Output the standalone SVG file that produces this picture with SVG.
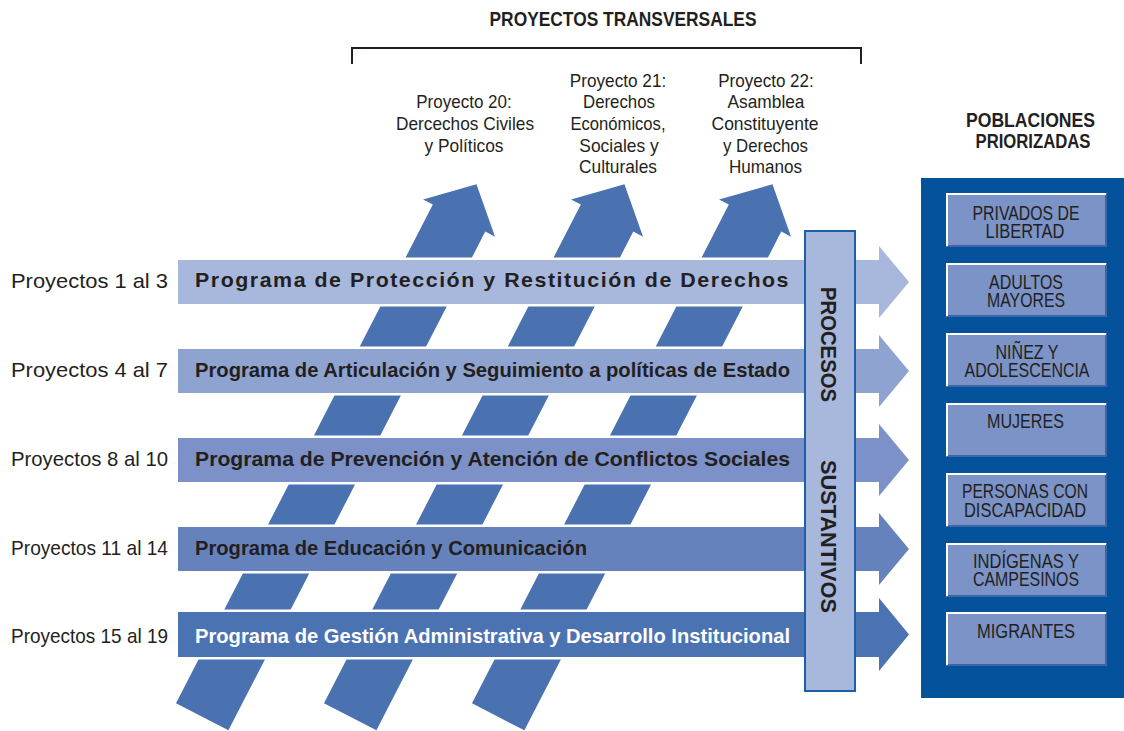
<svg xmlns="http://www.w3.org/2000/svg" width="1124" height="731" viewBox="0 0 1124 731">
  <style>
    text { font-family: "Liberation Sans", Arial, sans-serif; fill: #231f20; }
    .b { font-weight: bold; }
    .lbl { font-size: 21px; }
    .prj { font-size: 18.5px; text-anchor: middle; }
    .prog { font-size: 21px; font-weight: bold; }
    .pop { font-size: 19.5px; text-anchor: middle; }
    .diag { fill: #4a72b1; }
    .bar { stroke: #ffffff; stroke-width: 5; stroke-linejoin: miter; paint-order: stroke; }
    .box { fill: #7b93c6; }
    .hi { fill: none; stroke: #ffffff; stroke-width: 2; }
    .sh { fill: none; stroke: #3c66a8; stroke-width: 2; }
  </style>
  <defs>
    <polygon id="diagArrow" points="-29.5,515 -29.5,-46 -40.5,-46 0,-84 40.5,-46 29.5,-46 29.5,515"/>
  </defs>

  <rect width="1124" height="731" fill="#ffffff"/>

  <!-- header -->
  <g id="transversales">
    <text class="b" x="623" y="26" font-size="20" text-anchor="middle" textLength="267" lengthAdjust="spacingAndGlyphs">PROYECTOS TRANSVERSALES</text>
    <path d="M352,64 V48 H861 V64" fill="none" stroke="#231f20" stroke-width="2"/>
  </g>

  <g id="proyecto20">
    <text class="prj" x="464" y="108" textLength="95.5" lengthAdjust="spacingAndGlyphs">Proyecto 20:</text>
    <text class="prj" x="465" y="130" textLength="138" lengthAdjust="spacingAndGlyphs">Dercechos Civiles</text>
    <text class="prj" x="464" y="152" textLength="79" lengthAdjust="spacingAndGlyphs">y Políticos</text>
  </g>
  <g id="proyecto21">
    <text class="prj" x="618" y="87" textLength="96.5" lengthAdjust="spacingAndGlyphs">Proyecto 21:</text>
    <text class="prj" x="619" y="108" textLength="72" lengthAdjust="spacingAndGlyphs">Derechos</text>
    <text class="prj" x="618" y="130" textLength="95" lengthAdjust="spacingAndGlyphs">Económicos,</text>
    <text class="prj" x="619" y="152" textLength="79.5" lengthAdjust="spacingAndGlyphs">Sociales y</text>
    <text class="prj" x="618" y="173" textLength="78" lengthAdjust="spacingAndGlyphs">Culturales</text>
  </g>
  <g id="proyecto22">
    <text class="prj" x="766" y="87" textLength="95.5" lengthAdjust="spacingAndGlyphs">Proyecto 22:</text>
    <text class="prj" x="766" y="108" textLength="77" lengthAdjust="spacingAndGlyphs">Asamblea</text>
    <text class="prj" x="765" y="130" textLength="107" lengthAdjust="spacingAndGlyphs">Constituyente</text>
    <text class="prj" x="765.5" y="152" textLength="85" lengthAdjust="spacingAndGlyphs">y Derechos</text>
    <text class="prj" x="765.5" y="173" textLength="73" lengthAdjust="spacingAndGlyphs">Humanos</text>
  </g>

  <!-- diagonal transversal arrows, drawn behind the programme bars -->
  <g id="connectors">
    <use href="#diagArrow" class="diag" transform="translate(438,259) rotate(27.25)"/>
    <use href="#diagArrow" class="diag" transform="translate(586,259) rotate(27.25)"/>
    <use href="#diagArrow" class="diag" transform="translate(734,259) rotate(27.25)"/>
  </g>

  <!-- programme bars -->
  <g id="programa1">
    <polygon class="bar" fill="#a8b7dc" points="178,260 879,260 879,246 909,282 879,318 879,304 178,304"/>
    <text class="prog" x="195" y="287" textLength="595" lengthAdjust="spacingAndGlyphs" letter-spacing="1.5">Programa de Protección y Restitución de Derechos</text>
    <text class="lbl" x="11" y="288" textLength="157" lengthAdjust="spacingAndGlyphs">Proyectos 1 al 3</text>
  </g>
  <g id="programa2">
    <polygon class="bar" fill="#8fa3d0" points="178,349 879,349 879,335 909,371 879,407 879,393 178,393"/>
    <text class="prog" x="195" y="376.5" textLength="595" lengthAdjust="spacingAndGlyphs">Programa de Articulación y Seguimiento a políticas de Estado</text>
    <text class="lbl" x="11" y="377" textLength="157" lengthAdjust="spacingAndGlyphs">Proyectos 4 al 7</text>
  </g>
  <g id="programa3">
    <polygon class="bar" fill="#7b91c7" points="178,438 879,438 879,424 909,460 879,496 879,482 178,482"/>
    <text class="prog" x="195" y="465.5" textLength="595" lengthAdjust="spacingAndGlyphs">Programa de Prevención y Atención de Conflictos Sociales</text>
    <text class="lbl" x="11" y="465.5" textLength="157" lengthAdjust="spacingAndGlyphs">Proyectos 8 al 10</text>
  </g>
  <g id="programa4">
    <polygon class="bar" fill="#6682bd" points="178,527 879,527 879,513 909,549 879,585 879,571 178,571"/>
    <text class="prog" x="195" y="554.5" textLength="392" lengthAdjust="spacingAndGlyphs">Programa de Educación y Comunicación</text>
    <text class="lbl" x="11" y="554.5" textLength="157" lengthAdjust="spacingAndGlyphs">Proyectos 11 al 14</text>
  </g>
  <g id="programa5">
    <polygon class="bar" fill="#4b73b2" points="178,612 879,612 879,598 909,634.5 879,671 879,657 178,657"/>
    <text class="prog" x="195" y="642.5" textLength="595" lengthAdjust="spacingAndGlyphs" style="fill:#ffffff">Programa de Gestión Administrativa y Desarrollo Institucional</text>
    <text class="lbl" x="11" y="643" textLength="157" lengthAdjust="spacingAndGlyphs">Proyectos 15 al 19</text>
  </g>

  <!-- vertical "procesos sustantivos" band -->
  <g id="procesos">
    <rect x="805" y="231" width="50" height="460" fill="#a8b7dc" stroke="#1b5eab" stroke-width="2"/>
    <text class="b" font-size="22" transform="translate(821,287) rotate(90)" textLength="115" lengthAdjust="spacingAndGlyphs">PROCESOS</text>
    <text class="b" font-size="22" transform="translate(821,460) rotate(90)" textLength="153" lengthAdjust="spacingAndGlyphs">SUSTANTIVOS</text>
  </g>

  <!-- priority populations -->
  <g id="poblaciones">
    <text class="b" x="1030.5" y="127" font-size="19.5" text-anchor="middle" textLength="129" lengthAdjust="spacingAndGlyphs">POBLACIONES</text>
    <text class="b" x="1033" y="148" font-size="19.5" text-anchor="middle" textLength="115" lengthAdjust="spacingAndGlyphs">PRIORIZADAS</text>
    <rect x="921" y="178" width="203" height="520" fill="#04519c"/>
  </g>

  <g id="privados">
    <rect class="box" x="946" y="193" width="161" height="54"/>
    <polyline class="sh" points="947,246 1106,246 1106,194"/>
    <polyline class="hi" points="947,246 947,194 1106,194"/>
    <text class="pop" x="1026" y="220" textLength="107" lengthAdjust="spacingAndGlyphs">PRIVADOS DE</text>
    <text class="pop" x="1025" y="238" textLength="79" lengthAdjust="spacingAndGlyphs">LIBERTAD</text>
  </g>
  <g id="adultos">
    <rect class="box" x="946" y="263" width="161" height="54"/>
    <polyline class="sh" points="947,316 1106,316 1106,264"/>
    <polyline class="hi" points="947,316 947,264 1106,264"/>
    <text class="pop" x="1026" y="289" textLength="74" lengthAdjust="spacingAndGlyphs">ADULTOS</text>
    <text class="pop" x="1026" y="307" textLength="78" lengthAdjust="spacingAndGlyphs">MAYORES</text>
  </g>
  <g id="ninez">
    <rect class="box" x="946" y="333" width="161" height="54"/>
    <polyline class="sh" points="947,386 1106,386 1106,334"/>
    <polyline class="hi" points="947,386 947,334 1106,334"/>
    <text class="pop" x="1027" y="359" textLength="63" lengthAdjust="spacingAndGlyphs">NIÑEZ Y</text>
    <text class="pop" x="1027" y="377" textLength="125" lengthAdjust="spacingAndGlyphs">ADOLESCENCIA</text>
  </g>
  <g id="mujeres">
    <rect class="box" x="946" y="403" width="161" height="54"/>
    <polyline class="sh" points="947,456 1106,456 1106,404"/>
    <polyline class="hi" points="947,456 947,404 1106,404"/>
    <text class="pop" x="1025.5" y="428" textLength="77" lengthAdjust="spacingAndGlyphs">MUJERES</text>
  </g>
  <g id="discapacidad">
    <rect class="box" x="946" y="473" width="161" height="54"/>
    <polyline class="sh" points="947,526 1106,526 1106,474"/>
    <polyline class="hi" points="947,526 947,474 1106,474"/>
    <text class="pop" x="1025" y="498" textLength="126" lengthAdjust="spacingAndGlyphs">PERSONAS CON</text>
    <text class="pop" x="1025" y="517" textLength="122" lengthAdjust="spacingAndGlyphs">DISCAPACIDAD</text>
  </g>
  <g id="indigenas">
    <rect class="box" x="946" y="543" width="161" height="54"/>
    <polyline class="sh" points="947,596 1106,596 1106,544"/>
    <polyline class="hi" points="947,596 947,544 1106,544"/>
    <text class="pop" x="1026" y="568" textLength="106" lengthAdjust="spacingAndGlyphs">INDÍGENAS Y</text>
    <text class="pop" x="1026" y="586" textLength="106" lengthAdjust="spacingAndGlyphs">CAMPESINOS</text>
  </g>
  <g id="migrantes">
    <rect class="box" x="946" y="612" width="161" height="54"/>
    <polyline class="sh" points="947,665 1106,665 1106,613"/>
    <polyline class="hi" points="947,665 947,613 1106,613"/>
    <text class="pop" x="1026" y="638" textLength="98" lengthAdjust="spacingAndGlyphs">MIGRANTES</text>
  </g>
</svg>
